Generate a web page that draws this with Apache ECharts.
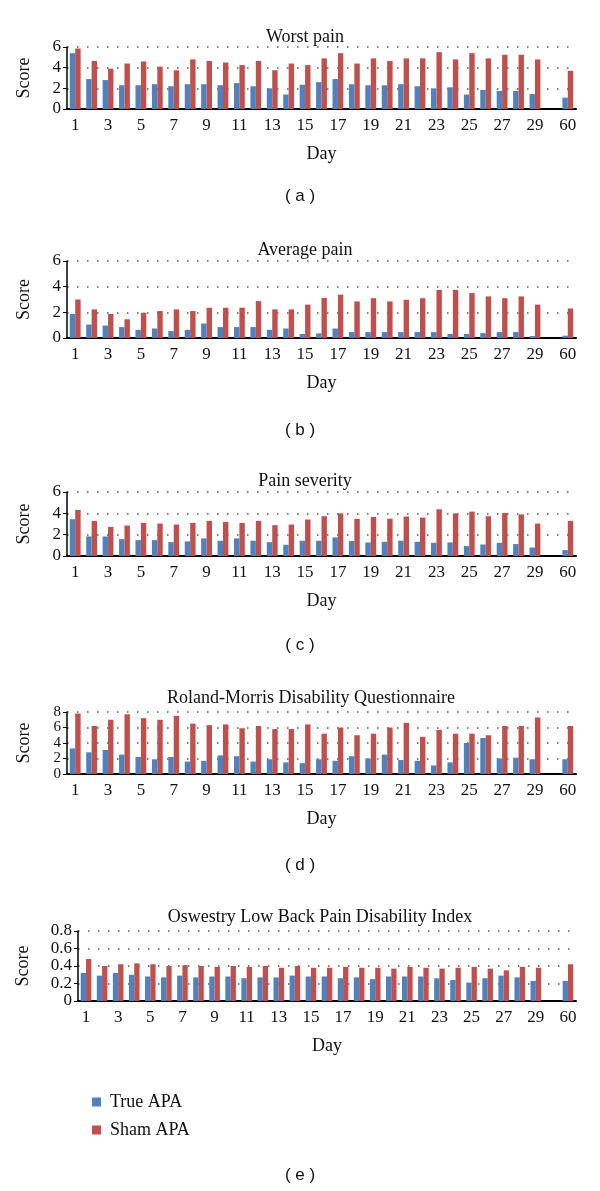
<!DOCTYPE html>
<html><head><meta charset="utf-8">
<script src="https://cdn.jsdelivr.net/npm/echarts@6/dist/echarts.min.js"></script>
<style>html,body{margin:0;padding:0;background:#fff}#c{width:600px;height:1191px}</style>
</head><body><div id="c"></div>
<script>
const days = ['1','2','3','4','5','6','7','8','9','10','11','12','13','14','15','16','17','18','19','20','21','22','23','24','25','26','27','28','29','','60'];
const seriesNames = ['True APA','Sham APA'];
const panelTitles = ['Worst pain','Average pain','Pain severity','Roland-Morris Disability Questionnaire','Oswestry Low Back Pain Disability Index'];
const panelLetters = ['( a )','( b )','( c )','( d )','( e )'];
const yMax = [6,6,6,8,0.8];
const yInterval = [2,2,2,2,0.2];

const worstTrue = [5.4,2.9,2.8,2.3,2.3,2.4,2.2,2.4,2.4,2.3,2.5,2.2,2.0,1.4,2.35,2.6,2.9,2.4,2.3,2.3,2.4,2.2,2.0,2.1,1.4,1.85,1.75,1.75,1.45,null,1.1];
const worstSham = [5.85,4.65,3.9,4.4,4.6,4.1,3.75,4.8,4.65,4.5,4.25,4.65,3.75,4.4,4.25,4.9,5.4,4.4,4.9,4.65,4.9,4.9,5.5,4.8,5.4,4.9,5.25,5.25,4.8,null,3.7];
const avgTrue = [1.87,1.05,0.97,0.85,0.64,0.74,0.54,0.64,1.13,0.85,0.85,0.85,0.64,0.74,0.31,0.36,0.74,0.46,0.46,0.46,0.46,0.46,0.46,0.31,0.31,0.38,0.46,0.46,0.15,null,0.18];
const avgSham = [3.0,2.23,1.87,1.46,1.97,2.1,2.23,2.1,2.36,2.36,2.36,2.87,2.23,2.23,2.6,3.13,3.38,2.85,3.1,2.85,2.98,3.1,3.75,3.75,3.5,3.24,3.1,3.24,2.6,null,2.3];
const sevTrue = [3.45,1.83,1.83,1.58,1.49,1.49,1.3,1.37,1.65,1.43,1.65,1.43,1.3,1.05,1.43,1.43,1.74,1.4,1.27,1.33,1.43,1.33,1.24,1.27,0.93,1.08,1.24,1.12,0.8,null,0.55];
const sevSham = [4.32,3.29,2.73,2.86,3.1,3.04,2.95,3.1,3.29,3.2,3.1,3.29,2.89,2.95,3.42,3.73,4.0,3.48,3.66,3.5,3.7,3.6,4.38,4.0,4.16,3.73,4.04,3.9,3.04,null,3.29];
const rmTrue = [3.3,2.8,3.1,2.5,2.2,1.9,2.2,1.6,1.7,2.4,2.3,1.6,1.9,1.5,1.4,1.9,1.7,2.3,2.0,2.5,1.8,1.7,1.1,1.5,4.0,4.65,2.0,2.1,1.9,null,1.9];
const rmSham = [7.8,6.2,7.0,7.7,7.2,7.0,7.5,6.5,6.3,6.4,5.9,6.2,5.8,5.8,6.4,5.2,6.0,5.0,5.2,6.0,6.6,4.8,5.7,5.2,5.2,5.0,6.2,6.2,7.3,null,6.2];
const odiTrue = [0.32,0.29,0.32,0.30,0.28,0.27,0.29,0.27,0.28,0.28,0.26,0.27,0.27,0.29,0.28,0.28,0.26,0.27,0.25,0.28,0.28,0.28,0.26,0.24,0.21,0.26,0.29,0.27,0.23,null,0.23];
const odiSham = [0.48,0.40,0.42,0.43,0.42,0.40,0.41,0.40,0.39,0.40,0.39,0.40,0.38,0.40,0.38,0.38,0.39,0.38,0.38,0.37,0.39,0.38,0.37,0.38,0.39,0.37,0.35,0.39,0.38,null,0.42];

const trueData = [worstTrue, avgTrue, sevTrue, rmTrue, odiTrue];
const shamData = [worstSham, avgSham, sevSham, rmSham, odiSham];

const SERIF = 'Liberation Serif';
const layout = [
  {left:67, top:47, height:62, title:23, tx:300, letter:188},
  {left:67, top:261, height:77, title:236, tx:300, letter:422},
  {left:67, top:492, height:64, title:467, tx:300, letter:637},
  {left:67, top:712, height:62, title:684, tx:306, letter:857},
  {left:78, top:931, height:70, title:903, tx:315, letter:1167}
];
const blue = '#4F81BD', red = '#C0504D';

const grids=[], xAxes=[], yAxes=[], series=[], titles=[], graphics=[];
layout.forEach((L,i)=>{
  grids.push({left:L.left, right:24, top:L.top, height:L.height});
  titles.push({text:panelTitles[i], left:L.tx, top:L.title, textAlign:'center',
    textStyle:{fontFamily:SERIF, fontSize:18, fontWeight:'normal', color:'#111'}});
  xAxes.push({type:'category', gridIndex:i, data:days, name:'Day', nameLocation:'middle', nameGap:36,
    nameTextStyle:{fontFamily:SERIF, fontSize:18, color:'#111'},
    axisLine:{lineStyle:{color:'#000', width:2}}, axisTick:{show:false},
    axisLabel:{interval:1, fontFamily:SERIF, fontSize:17, color:'#111', margin:8}});
  yAxes.push({type:'value', gridIndex:i, min:0, max:yMax[i], interval:yInterval[i],
    name:'Score', nameLocation:'middle', nameGap: i===4?46:34, nameRotate:90,
    nameTextStyle:{fontFamily:SERIF, fontSize:18, color:'#111'},
    axisLine:{show:true, lineStyle:{color:'#000', width:1.5}},
    axisTick:{show:true, length:4, lineStyle:{color:'#000'}},
    axisLabel:{fontFamily:SERIF, fontSize: i===3 ? 15 : 17, color:'#111', margin:6,
      lineHeight: i===3 ? 12 : 14, padding:0,
      showMinLabel:true, showMaxLabel:true, hideOverlap:false},
    splitLine:{show:true, lineStyle:{color:'#555', width:1.5, type:[1.5,8.5]}}});
  series.push({name:seriesNames[0], type:'bar', xAxisIndex:i, yAxisIndex:i, data:trueData[i],
    itemStyle:{color:blue}, barGap:'0%', barCategoryGap:'34%'});
  series.push({name:seriesNames[1], type:'bar', xAxisIndex:i, yAxisIndex:i, data:shamData[i],
    itemStyle:{color:red}, barGap:'0%', barCategoryGap:'34%'});
  graphics.push({type:'text', left:'center', top:L.letter,
    style:{text:panelLetters[i], fontFamily:'Liberation Sans', fontSize:17, fill:'#111'}});
});

const chart = echarts.init(document.getElementById('c'));
chart.setOption({
  animation:false,
  title:titles,
  grid:grids, xAxis:xAxes, yAxis:yAxes, series:series,
  graphic:graphics,
  legend:{data:seriesNames, orient:'vertical', left:87, top:1088, icon:'rect', itemWidth:9, itemHeight:9,
    itemGap:10, textStyle:{fontFamily:SERIF, fontSize:18, color:'#111', padding:[0,0,0,4]}}
});
</script></body></html>
